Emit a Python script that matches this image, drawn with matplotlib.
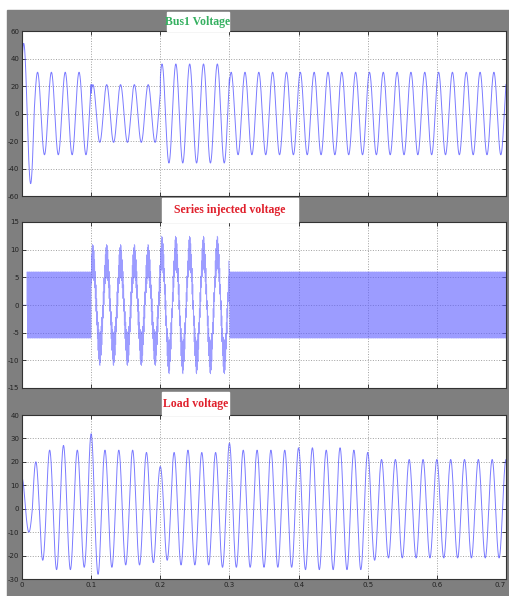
import numpy as np
import matplotlib
matplotlib.use('Agg')
import matplotlib.pyplot as plt
from matplotlib.patches import Rectangle

# ---- data ----
f0 = 50.0            # Hz, supply frequency
fc = 1000.0          # Hz, ripple of the injected voltage
t_end = 0.7

# Bus1 voltage: amplitude per time segment (peak time offset 2.5 ms)
bus_edges = [0.0, 0.0175, 0.1, 0.2, 0.3]
bus_amp = [51, 30, 21, 36, 30]
bus_peak_t = 0.0025

# Series injected voltage: fundamental and ripple amplitude per segment
ser_edges = [0.0, 0.007, 0.1, 0.2, 0.3]
ser_fund = [0, 0, 8, 9.5, 0]
ser_ripple = [0, 6, 3, 3, 6]

# Load voltage: extreme value of each half cycle (t = 0, 0.01, 0.02 ...)
load_amp = [13, 10, 20, 22, 25, 26, 27, 26, 25, 25,
            32, 28, 25, 25, 25, 24, 25, 24, 24, 23,
            18, 22, 24, 24, 25, 24, 24, 24, 24, 25,
            28, 25, 25, 25, 25, 25, 25, 25, 25, 25,
            26, 26, 26, 26, 25, 26, 26, 26, 25, 26,
            24, 22, 21, 21, 21, 21, 21, 21, 21, 21,
            21, 21, 21, 21, 21, 21, 21, 21, 21, 21, 21]

titles = ['Bus1 Voltage', 'Series injected voltage', 'Load voltage']
title_colors = ['#35b060', '#e0202c', '#e0202c']
ylims = [(-60, 60), (-15, 15), (-30, 40)]
yticks = [[-60, -40, -20, 0, 20, 40, 60],
          [-15, -10, -5, 0, 5, 10, 15],
          [-30, -20, -10, 0, 10, 20, 30, 40]]
xticks = [0, 0.1, 0.2, 0.3, 0.4, 0.5, 0.6, 0.7]
xticklabels = ['0', '0.1', '0.2', '0.3', '0.4', '0.5', '0.6', '0.7']


def seg(t, edges, vals):
    idx = np.searchsorted(edges, t, side='right') - 1
    return np.asarray(vals, dtype=float)[idx]


t = np.arange(0, t_end, 1e-5)
w = 2 * np.pi * f0

bus = seg(t, bus_edges, bus_amp) * np.cos(w * (t - bus_peak_t))
ser = (seg(t, ser_edges, ser_fund) * np.cos(w * (t - bus_peak_t))
       + seg(t, ser_edges, ser_ripple) * np.sin(2 * np.pi * fc * t))
k = np.clip(np.round(t / 0.01).astype(int), 0, len(load_amp) - 1)
load = np.asarray(load_amp, dtype=float)[k] * np.cos(w * t)
signals = [bus, ser, load]
line_w = [0.7, 0.35, 0.7]
line_a = [0.8, 0.6, 0.8]

# ---- figure (pixel layout of the scope window) ----
W, H = 510, 596
fig = plt.figure(figsize=(W / 100, H / 100), dpi=100)
fig.patch.set_facecolor('white')
fig.patches.append(Rectangle((7 / W, 0), 1 - 7 / W, 1 - 10 / H,
                             transform=fig.transFigure, color='#7f7f7f',
                             zorder=-10))

ax_px = [(31, 196), (222, 388), (415, 579)]
box_px = [(167, 229, 12, 31), (162, 298, 198, 222), (162, 229, 392, 415)]
x0, x1 = 22, 506

for i in range(3):
    top, bot = ax_px[i]
    ax = fig.add_axes([x0 / W, 1 - bot / H, (x1 - x0) / W, (bot - top) / H])
    ax.set_zorder(1)
    ax.plot(t, signals[i], color='#5a5aff', lw=line_w[i], alpha=line_a[i])
    ax.set_xlim(0, t_end)
    ax.set_ylim(*ylims[i])
    ax.set_yticks(yticks[i])
    ax.set_yticklabels([str(v) for v in yticks[i]])
    ax.set_xticks(xticks)
    if i == 2:
        ax.set_xticklabels(xticklabels)
        ax.get_xticklabels()[-1].set_ha('right')
    else:
        ax.set_xticklabels([])
    ax.grid(True, color='#a0a0a0', ls=':', lw=0.7)
    ax.tick_params(direction='in', length=3, width=0.6, top=True, right=True,
                   labelsize=5, colors='#222222', pad=2)
    for s in ax.spines.values():
        s.set_color('#333333')
        s.set_linewidth(0.8)

    bx0, bx1, by0, by1 = box_px[i]
    fig.patches.append(Rectangle((bx0 / W, 1 - by1 / H), (bx1 - bx0) / W,
                                 (by1 - by0) / H, transform=fig.transFigure,
                                 color='white', zorder=5))
    fig.text((bx0 + bx1) / 2 / W, 1 - (by0 + by1) / 2 / H, titles[i],
             ha='center', va='center', color=title_colors[i],
             family='Liberation Serif', weight='bold', fontsize=8.5,
             zorder=6)

fig.savefig('out.png', dpi=100)
